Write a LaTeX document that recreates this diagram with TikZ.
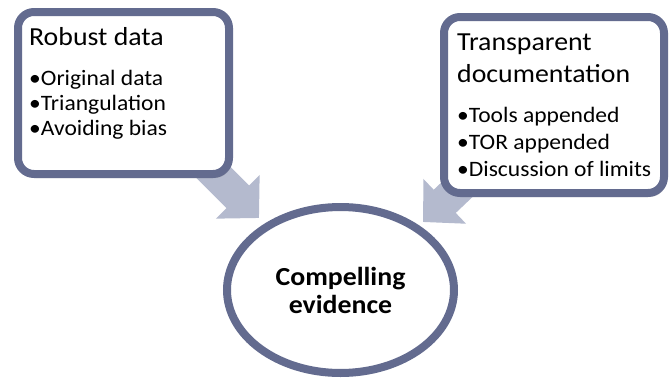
\documentclass[tikz,border=0pt]{standalone}
\usepackage{fontspec}
\setmainfont[FakeStretch=1.07]{Carlito}
\usetikzlibrary{shapes.geometric,arrows.meta,shadows,backgrounds}
\definecolor{slate}{RGB}{99,107,143}
\definecolor{paleslate}{RGB}{180,186,206}
\tikzset{
  card/.style={draw=slate, line width=8pt, rounded corners=16pt, fill=white,
    drop shadow={shadow xshift=2pt, shadow yshift=-4pt, opacity=0.25}},
  heading/.style={anchor=base west, inner sep=0pt, font=\fontsize{26}{30}\selectfont},
  point/.style={anchor=base west, inner sep=0pt, font=\fontsize{22}{25}\selectfont},
  goal/.style={ellipse, draw=slate, line width=8pt, fill=white, inner sep=0pt,
    align=center, font=\fontsize{26}{28}\selectfont\bfseries},
  flow/.style={paleslate, line width=32pt, -{Triangle[width=60pt,length=30pt]}}
}

\begin{document}
\begin{tikzpicture}[x=1pt,y=-1pt]
  \useasboundingbox (0,0) rectangle (670,378);
  % left card
  \node[card, minimum width=211, minimum height=162] (robust) at (123.5,93) {};
  \node[heading] (robusttitle) at (29,45) {Robust data};
  \foreach \txt [count=\i] in {Original data, Triangulation, Avoiding bias}
    \node[point] (robust\i) at (29,60+25*\i) {\textbullet\txt};
  % right card
  \node[card, minimum width=220, minimum height=176] (trans) at (554,105) {};
  \node[heading] (transtitle) at (457,50) {Transparent};
  \node[heading] (transtitle2) at (457,82) {documentation};
  \foreach \txt [count=\i] in {Tools appended, TOR appended, Discussion of limits}
    \node[point] (trans\i) at (457,95+27*\i) {\textbullet\txt};
  % centre
  \node[goal, minimum width=227, minimum height=166] (evidence) at (340.5,290) {Compelling\\evidence};
  \coordinate (ltip) at (259,218);
  \coordinate (rtip) at (423,222);
  \begin{scope}[on background layer]
    \draw[flow] ([shift={(-40,-26)}]robust.south east) -- (ltip);
    \draw[flow] ([shift={(44,-33)}]trans.south west) -- (rtip);
  \end{scope}
\end{tikzpicture}
\end{document}
